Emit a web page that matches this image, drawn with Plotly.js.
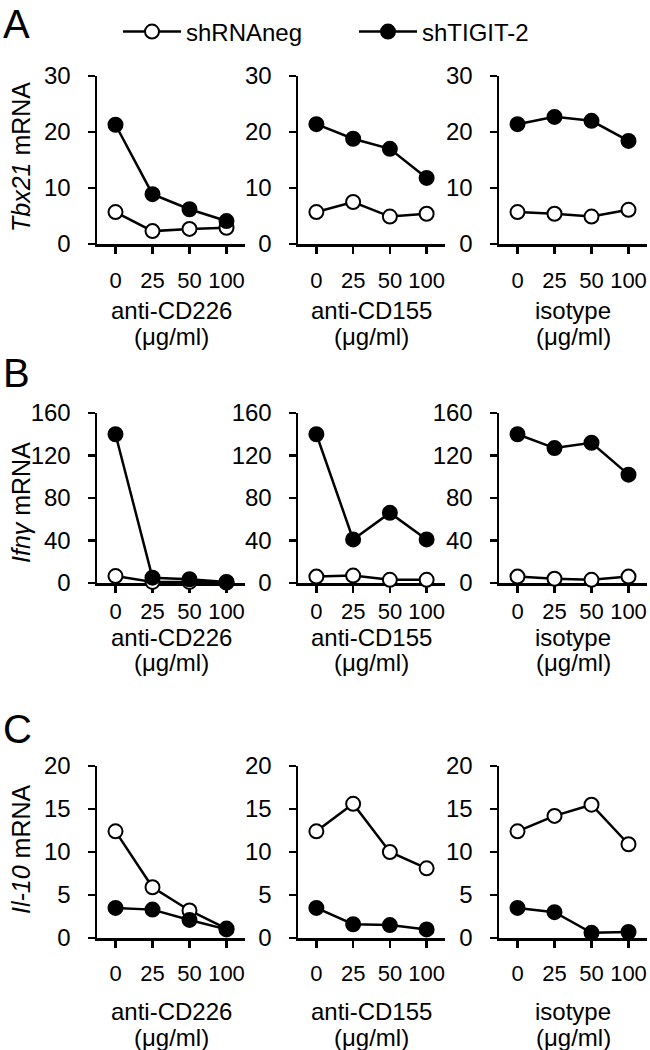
<!DOCTYPE html>
<html><head><meta charset="utf-8">
<script src="https://cdn.plot.ly/plotly-3.0.1.min.js"></script>
<style>html,body{margin:0;padding:0;background:#fff}</style>
</head><body><div id="chart" style="width:650px;height:1050px"></div>
<script>
// ---------- data ----------
const doses = ['0', '25', '50', '100'];
const treatments = ['anti-CD226', 'anti-CD155', 'isotype'];
const unitLabel = '(μg/ml)';
const seriesNames = ['shRNAneg', 'shTIGIT-2'];
const geneTitles = ['<i>Tbx21</i> mRNA', '<i>Ifnγ</i> mRNA', '<i>Il-10</i> mRNA'];
const panelLetters = ['A', 'B', 'C'];
const tbx21Ticks = [0, 10, 20, 30];
const ifngTicks = [0, 40, 80, 120, 160];
const il10Ticks = [0, 5, 10, 15, 20];

// Tbx21
const tbx21NegCD226 = [5.7, 2.3, 2.7, 2.9];
const tbx21TigCD226 = [21.3, 8.9, 6.2, 4.1];
const tbx21NegCD155 = [5.7, 7.5, 4.9, 5.4];
const tbx21TigCD155 = [21.4, 18.8, 17.0, 11.8];
const tbx21NegIso = [5.7, 5.4, 4.9, 6.1];
const tbx21TigIso = [21.4, 22.7, 22.0, 18.4];
// Ifng
const ifngNegCD226 = [6.5, 1, 1, 0.5];
const ifngTigCD226 = [140, 5, 3.5, 1];
const ifngNegCD155 = [6, 7, 3, 3];
const ifngTigCD155 = [140, 41, 66, 41];
const ifngNegIso = [6, 4, 3, 6];
const ifngTigIso = [140, 127, 132, 102];
// Il-10
const il10NegCD226 = [12.4, 5.9, 3.2, 1.1];
const il10TigCD226 = [3.5, 3.3, 2.1, 1.0];
const il10NegCD155 = [12.4, 15.6, 10.0, 8.1];
const il10TigCD155 = [3.5, 1.6, 1.5, 1.0];
const il10NegIso = [12.4, 14.2, 15.5, 10.9];
const il10TigIso = [3.5, 3.0, 0.6, 0.7];

const rowsNeg = [[tbx21NegCD226, tbx21NegCD155, tbx21NegIso],
                 [ifngNegCD226, ifngNegCD155, ifngNegIso],
                 [il10NegCD226, il10NegCD155, il10NegIso]];
const rowsTig = [[tbx21TigCD226, tbx21TigCD155, tbx21TigIso],
                 [ifngTigCD226, ifngTigCD155, ifngTigIso],
                 [il10TigCD226, il10TigCD155, il10TigIso]];
const rowTicks = [tbx21Ticks, ifngTicks, il10Ticks];

// ---------- layout geometry (pixels) ----------
const W = 650, H = 1050;
const colPx = [[97, 245], [298, 445], [499, 647]];
const rowPx = [[76, 244], [413, 583], [766, 938]];
const xLabelStandoff = [8, 0, 7];
const xTitleY = [[311, 337], [637, 662], [1011, 1037]];
const letterY = [24, 373, 729];
const yTitleY = [157, 503, 849];
const FONT = 'Liberation Sans, Arial, Helvetica, sans-serif';
const px2x = p => p / W;
const px2y = p => 1 - p / H;

const xIdx = doses.map((d, i) => i);
const traces = [];
const layout = {
  width: W, height: H,
  margin: {l: 0, r: 0, t: 0, b: 0},
  paper_bgcolor: '#fff', plot_bgcolor: '#fff',
  font: {family: FONT, color: '#000'},
  showlegend: true,
  legend: {orientation: 'h', x: px2x(118), xanchor: 'left', y: px2y(32), yanchor: 'middle',
           font: {size: 24, family: FONT, color: '#000'}, itemwidth: 58, entrywidth: 163,
           bgcolor: 'rgba(0,0,0,0)', traceorder: 'normal'},
  annotations: []
};

for (let r = 0; r < 3; r++) {
  const ticks = rowTicks[r];
  for (let c = 0; c < 3; c++) {
    const k = r * 3 + c + 1;
    const xa = k === 1 ? 'x' : 'x' + k;
    const ya = k === 1 ? 'y' : 'y' + k;
    const xName = k === 1 ? 'xaxis' : 'xaxis' + k;
    const yName = k === 1 ? 'yaxis' : 'yaxis' + k;
    layout[xName] = {
      domain: [px2x(colPx[c][0]), px2x(colPx[c][1])], anchor: ya,
      range: [-0.5, 3.5], tickvals: xIdx, ticktext: doses,
      showline: true, linecolor: '#000', linewidth: 2.5,
      ticks: 'outside', ticklen: 7, tickwidth: 2.5, tickcolor: '#000',
      showgrid: false, zeroline: false, fixedrange: true,
      tickfont: {size: 22, family: FONT, color: '#000'},
      ticklabelstandoff: xLabelStandoff[r], layer: 'below traces'
    };
    layout[yName] = {
      domain: [px2y(rowPx[r][1]), px2y(rowPx[r][0])], anchor: xa,
      range: [ticks[0], ticks[ticks.length - 1]], tickvals: ticks,
      showline: true, linecolor: '#000', linewidth: 2.5,
      ticks: 'outside', ticklen: 7, tickwidth: 2.5, tickcolor: '#000',
      showgrid: false, zeroline: false, fixedrange: true,
      tickfont: {size: 24, family: FONT, color: '#000'},
      ticklabelstandoff: 12, layer: 'below traces'
    };
    traces.push({
      type: 'scatter', mode: 'lines+markers', x: xIdx, y: rowsNeg[r][c],
      xaxis: xa, yaxis: ya, name: seriesNames[0], legendgroup: 'neg',
      showlegend: k === 1, cliponaxis: false,
      line: {color: '#000', width: 2.5},
      marker: {symbol: 'circle', size: 14, color: '#fff', line: {color: '#000', width: 2}}
    });
    traces.push({
      type: 'scatter', mode: 'lines+markers', x: xIdx, y: rowsTig[r][c],
      xaxis: xa, yaxis: ya, name: seriesNames[1], legendgroup: 'tig',
      showlegend: k === 1, cliponaxis: false,
      line: {color: '#000', width: 2.5},
      marker: {symbol: 'circle', size: 14, color: '#000', line: {color: '#000', width: 2}}
    });
    const cx = px2x((colPx[c][0] + colPx[c][1]) / 2);
    layout.annotations.push({xref: 'paper', yref: 'paper', x: cx, y: px2y(xTitleY[r][0]),
      xanchor: 'center', yanchor: 'middle', showarrow: false, text: treatments[c],
      font: {size: 24, family: FONT, color: '#000'}});
    layout.annotations.push({xref: 'paper', yref: 'paper', x: cx, y: px2y(xTitleY[r][1]),
      xanchor: 'center', yanchor: 'middle', showarrow: false, text: unitLabel,
      font: {size: 24, family: FONT, color: '#000'}});
  }
  layout.annotations.push({xref: 'paper', yref: 'paper', x: px2x(21), y: px2y(yTitleY[r]),
    xanchor: 'center', yanchor: 'middle', showarrow: false, textangle: -90, text: geneTitles[r],
    font: {size: 25, family: FONT, color: '#000'}});
  layout.annotations.push({xref: 'paper', yref: 'paper', x: px2x(1), y: px2y(letterY[r]),
    xanchor: 'left', yanchor: 'middle', showarrow: false, text: panelLetters[r],
    font: {size: 40, family: FONT, color: '#000'}});
}

Plotly.newPlot('chart', traces, layout, {displayModeBar: false, staticPlot: true});
</script></body></html>
